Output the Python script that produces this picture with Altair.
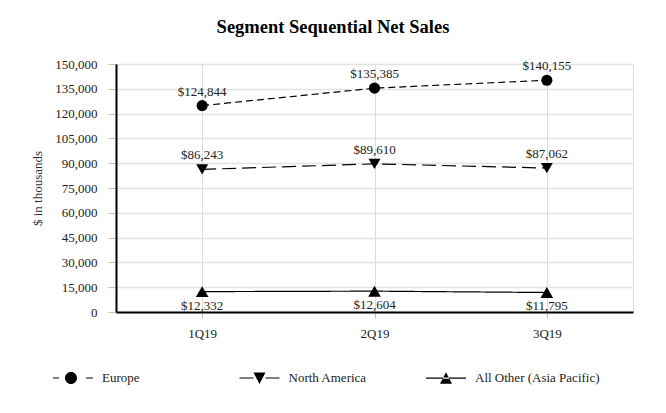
import altair as alt
import pandas as pd

quarters = ["1Q19", "2Q19", "3Q19"]
series_names = ["Europe", "North America", "All Other (Asia Pacific)"]
europe = [124844, 135385, 140155]
north_america = [86243, 89610, 87062]
all_other = [12332, 12604, 11795]

rows = []
for name, vals in zip(series_names, [europe, north_america, all_other]):
    for q, v in zip(quarters, vals):
        rows.append({"series": name, "quarter": q, "value": v, "label": "${:,}".format(v)})
df = pd.DataFrame(rows)

FONT = "Liberation Serif"

x_enc = alt.X("quarter:N", sort=quarters,
              scale=alt.Scale(type="point", padding=0.5),
              axis=alt.Axis(title=None, labelAngle=0, labelFont=FONT, labelFontSize=13,
                            labelColor="#222222", domainColor="#000000", domainWidth=2,
                            tickColor="#bfbfbf", tickSize=6, labelPadding=9,
                            grid=True, gridColor="#dcdcdc", gridWidth=1))
y_enc = alt.Y("value:Q", scale=alt.Scale(domain=[0, 150000], nice=False),
              axis=alt.Axis(title="$ in thousands", values=list(range(0, 150001, 15000)),
                            format=",.0f", labelFont=FONT, labelFontSize=13, labelColor="#222222",
                            titleFont=FONT, titleFontSize=13, titleFontWeight="normal",
                            titleColor="#333333", titlePadding=10,
                            domainColor="#000000", domainWidth=2, tickColor="#bfbfbf",
                            tickSize=8, labelPadding=11, grid=True, gridColor="#e3e3e3",
                            gridWidth=1.5))

base = alt.Chart(df).encode(x=x_enc, y=y_enc)

lines = base.mark_line(color="black", strokeWidth=1.2).encode(
    strokeDash=alt.StrokeDash("series:N",
                              scale=alt.Scale(domain=series_names, range=[[7, 4], [14, 6], [1, 0]]),
                              legend=None),
    detail="series:N",
)

points = base.mark_point(filled=True, color="black", opacity=1).encode(
    shape=alt.Shape("series:N",
                    scale=alt.Scale(domain=series_names,
                                    range=["circle", "triangle-down", "triangle-up"]),
                    legend=None),
    size=alt.Size("series:N", scale=alt.Scale(domain=series_names, range=[125, 160, 160]),
                  legend=None),
)

labels_above = base.transform_filter(
    "datum.series != 'All Other (Asia Pacific)'"
).mark_text(font=FONT, fontSize=13, color="#222222", dy=-14, baseline="middle").encode(
    text="label:N")

labels_below = base.transform_filter(
    "datum.series == 'All Other (Asia Pacific)'"
).mark_text(font=FONT, fontSize=13, color="#222222", dy=14, baseline="middle").encode(
    text="label:N")

# legend symbols: line pieces drawn as thin filled bars (unit = 20px)
legend_paths = [
    "M-1,-0.03L-0.7,-0.03L-0.7,0.03L-1,0.03Z"
    "M0.65,-0.03L1,-0.03L1,0.03L0.65,0.03Z"
    "M-0.4,0A0.3,0.3,0,1,0,0.2,0A0.3,0.3,0,1,0,-0.4,0Z",
    "M-1,-0.03L-0.3,-0.03L-0.3,0.03L-1,0.03Z"
    "M0.3,-0.03L1,-0.03L1,0.03L0.3,0.03Z"
    "M-0.3,-0.27L0.3,-0.27L0,0.3Z",
    "M-1,-0.03L1,-0.03L1,0.03L-1,0.03Z"
    "M-0.3,0.28L0.3,0.28L0,-0.3Z",
]

legend_layer = base.transform_filter("datum.value < 0").mark_point(
    filled=True, color="black"
).encode(
    shape=alt.Shape("series:N",
                    scale=alt.Scale(domain=series_names, range=legend_paths),
                    legend=alt.Legend(title=None, orient="none", legendX=-64, legendY=293,
                                      direction="horizontal", columns=3, gridAlign="all",
                                      columnPadding=9.5, symbolSize=1600,
                                      symbolFillColor="black", symbolOpacity=1,
                                      labelFont=FONT, labelFontSize=13, labelColor="#222222",
                                      labelOffset=8, padding=0, labelLimit=300)),
)

chart = alt.layer(lines, points, labels_above, labels_below, legend_layer).resolve_scale(
    shape="independent"
).properties(
    width=517, height=248,
    autosize=alt.AutoSizeParams(type="none"),
    padding={"left": 108, "top": 56, "right": 25, "bottom": 93},
    title=alt.TitleParams("Segment Sequential Net Sales", font=FONT, fontSize=18.5,
                          fontWeight="bold", color="#000000", dx=-41.5, offset=22),
).configure_view(stroke=None).configure(background="white")

chart.save("out.html", embed_options={"renderer": "svg", "actions": False})
